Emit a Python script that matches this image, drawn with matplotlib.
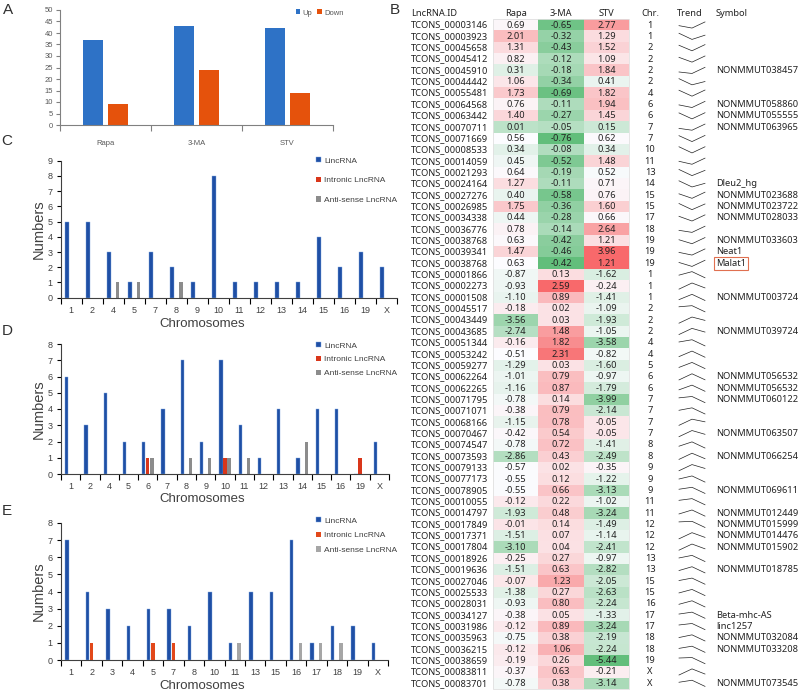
import numpy as np
import matplotlib.pyplot as plt
from matplotlib.patches import Rectangle

W, H = 800, 692
plt.rcParams['font.family'] = ['Liberation Sans', 'DejaVu Sans']

# ---------------- data ----------------
groups = ['Rapa', '3-MA', 'STV']
up_counts = [37, 43, 42]
down_counts = [9, 24, 14]

chr_c = ['1', '2', '4', '5', '7', '8', '9', '10', '11', '12', '13', '14', '15', '16', '19', 'X']
linc_c = [5, 5, 3, 1, 3, 2, 1, 8, 1, 1, 1, 1, 4, 2, 3, 2]
intr_c = [0, 0, 0, 0, 0, 0, 0, 0, 0, 0, 0, 0, 0, 0, 0, 0]
anti_c = [0, 0, 1, 1, 0, 1, 0, 0, 0, 0, 0, 0, 0, 0, 0, 0]

chr_d = ['1', '2', '4', '5', '6', '7', '8', '9', '10', '11', '12', '13', '14', '15', '16', '19', 'X']
linc_d = [6, 3, 5, 2, 2, 4, 7, 2, 7, 3, 1, 4, 1, 4, 4, 0, 2]
intr_d = [0, 0, 0, 0, 1, 0, 0, 0, 1, 0, 0, 0, 0, 0, 0, 1, 0]
anti_d = [0, 0, 0, 0, 1, 0, 1, 1, 1, 1, 0, 0, 2, 0, 0, 0, 0]

chr_e = ['1', '2', '3', '4', '5', '7', '8', '10', '11', '13', '15', '16', '17', '18', '19', 'X']
linc_e = [7, 4, 3, 2, 3, 3, 2, 4, 1, 4, 4, 7, 1, 2, 2, 1]
intr_e = [0, 1, 0, 0, 1, 1, 0, 0, 0, 0, 0, 0, 0, 0, 0, 0]
anti_e = [0, 0, 0, 0, 0, 0, 0, 0, 1, 0, 0, 1, 1, 1, 0, 0]

ids = ['TCONS_00003146', 'TCONS_00003923', 'TCONS_00045658', 'TCONS_00045412', 'TCONS_00045910',
       'TCONS_00044442', 'TCONS_00055481', 'TCONS_00064568', 'TCONS_00063442', 'TCONS_00070711',
       'TCONS_00071669', 'TCONS_00008533', 'TCONS_00014059', 'TCONS_00021293', 'TCONS_00024164',
       'TCONS_00027276', 'TCONS_00026985', 'TCONS_00034338', 'TCONS_00036776', 'TCONS_00038768',
       'TCONS_00039341', 'TCONS_00038768',
       'TCONS_00001866', 'TCONS_00002273', 'TCONS_00001508', 'TCONS_00045517', 'TCONS_00043449',
       'TCONS_00043685', 'TCONS_00051344', 'TCONS_00053242', 'TCONS_00059277', 'TCONS_00062264',
       'TCONS_00062265', 'TCONS_00071795', 'TCONS_00071071', 'TCONS_00068166', 'TCONS_00070467',
       'TCONS_00074547', 'TCONS_00073593', 'TCONS_00079133', 'TCONS_00077173', 'TCONS_00078905',
       'TCONS_00010055', 'TCONS_00014797', 'TCONS_00017849', 'TCONS_00017371', 'TCONS_00017804',
       'TCONS_00018926', 'TCONS_00019636', 'TCONS_00027046', 'TCONS_00025533', 'TCONS_00028031',
       'TCONS_00034127', 'TCONS_00031986', 'TCONS_00035963', 'TCONS_00036215', 'TCONS_00038659',
       'TCONS_00083811', 'TCONS_00083701']
rapa = [0.69, 2.01, 1.31, 0.82, 0.31, 1.06, 1.73, 0.76, 1.40, 0.01, 0.56, 0.34, 0.45, 0.64, 1.27,
        0.40, 1.75, 0.44, 0.78, 0.63, 1.47, 0.63,
        -0.87, -0.93, -1.10, -0.18, -3.56, -2.74, -0.16, -0.51, -1.29, -1.01, -1.16, -0.78, -0.38,
        -1.15, -0.42, -0.78, -2.86, -0.57, -0.55, -0.55, -0.12, -1.93, -0.01, -1.51, -3.10, -0.25,
        -1.51, -0.07, -1.38, -0.93, -0.38, -0.12, -0.75, -0.12, -0.19, -0.37, -0.78]
ma3 = [-0.65, -0.32, -0.43, -0.12, -0.18, -0.34, -0.69, -0.11, -0.27, -0.05, -0.76, -0.08, -0.52,
       -0.19, -0.11, -0.58, -0.36, -0.28, -0.14, -0.42, -0.46, -0.42,
       0.13, 2.59, 0.89, 0.02, 0.03, 1.48, 1.82, 2.31, 0.03, 0.79, 0.87, 0.14, 0.79, 0.78, 0.54,
       0.72, 0.43, 0.02, 0.12, 0.66, 0.22, 0.48, 0.14, 0.07, 0.04, 0.27, 0.63, 1.23, 0.27, 0.80,
       0.05, 0.89, 0.38, 1.06, 0.26, 0.63, 0.38]
stv = [2.77, 1.29, 1.52, 1.09, 1.84, 0.41, 1.82, 1.94, 1.45, 0.15, 0.62, 0.34, 1.48, 0.52, 0.71,
       0.76, 1.60, 0.66, 2.64, 1.21, 3.96, 1.21,
       -1.62, -0.24, -1.41, -1.09, -1.93, -1.05, -3.58, -0.82, -1.60, -0.97, -1.79, -3.99, -2.14,
       -0.05, -0.05, -1.41, -2.49, -0.35, -1.22, -3.13, -1.02, -3.24, -1.49, -1.14, -2.41, -0.97,
       -2.82, -2.05, -2.63, -2.24, -1.33, -3.24, -2.19, -2.24, -5.44, -0.21, -3.14]
chrom = ['1', '1', '2', '2', '2', '2', '4', '6', '6', '7', '7', '10', '11', '13', '14', '15', '15',
         '17', '18', '19', '19', '19',
         '1', '1', '1', '2', '2', '2', '4', '4', '5', '6', '6', '7', '7', '7', '7', '8', '8', '9',
         '9', '9', '11', '11', '12', '12', '12', '13', '13', '15', '15', '16', '17', '17', '18',
         '18', '19', 'X', 'X']
symbol = ['', '', '', '', 'NONMMUT038457', '', '', 'NONMMUT058860', 'NONMMUT055555', 'NONMMUT063965',
          '', '', '', '', 'Dleu2_hg', 'NONMMUT023688', 'NONMMUT023722', 'NONMMUT028033', '',
          'NONMMUT033603', 'Neat1', 'Malat1',
          '', '', 'NONMMUT003724', '', '', 'NONMMUT039724', '', '', '', 'NONMMUT056532',
          'NONMMUT056532', 'NONMMUT060122', '', '', 'NONMMUT063507', '', 'NONMMUT066254', '', '',
          'NONMMUT069611', '', 'NONMMUT012449', 'NONMMUT015999', 'NONMMUT014476', 'NONMMUT015902',
          '', 'NONMMUT018785', '', '', '', 'Beta-mhc-AS', 'linc1257', 'NONMMUT032084',
          'NONMMUT033208', '', '', 'NONMMUT073545']
# rows sharing one colour scale (up block, highlighted Malat1 row, down block)
scale_groups = [range(0, 21), range(21, 22), range(22, 59)]
boxed = 'Malat1'

fig = plt.figure(figsize=(W / 100, H / 100), dpi=100)


def px_axes(x0, y0, x1, y1):
    return fig.add_axes([x0 / W, 1 - y1 / H, (x1 - x0) / W, (y1 - y0) / H])


TXT = '#404040'

# ---------------- panel A ----------------
axA = px_axes(60, 10, 333, 125)
xa = np.arange(len(groups))
axA.bar(xa - 0.14, up_counts, 0.22, color='#2E72C6', label='Up')
axA.bar(xa + 0.14, down_counts, 0.22, color='#E5520C', label='Down')
axA.set_xlim(-0.5, len(groups) - 0.5)
axA.set_ylim(0, 50)
axA.set_yticks(range(0, 51, 5))
axA.set_xticks(np.arange(-0.5, len(groups)))
axA.set_xticklabels([])
for s in ['top', 'right']:
    axA.spines[s].set_visible(False)
for s in ['left', 'bottom']:
    axA.spines[s].set_color('#808080')
    axA.spines[s].set_linewidth(0.8)
axA.tick_params(axis='y', labelsize=5.5, colors='#808080', labelcolor='#595959', length=3, width=0.8, pad=2)
axA.tick_params(axis='x', colors='#808080', length=4, width=0.8)
for i, g in enumerate(groups):
    axA.text(i, -8, g, ha='center', va='center', fontsize=5.5, color='#595959')
axA.legend(loc='center left', bbox_to_anchor=(292 / W, 1 - 13 / H), bbox_transform=fig.transFigure,
           ncol=2, frameon=False, fontsize=5.5, handlelength=0.6, handleheight=0.6,
           handletextpad=0.3, columnspacing=0.6, labelcolor='#595959', borderpad=0)


# ---------------- panels C, D, E ----------------
def chrom_panel(box, cats, linc, intr, anti, ymax, leg_y, leg_gap, xlab_y, red, grey):
    ax = px_axes(*box)
    n = len(cats)
    x = np.arange(n)
    ax.bar(x - 0.21, linc, 0.17, color='#1F4FA5', edgecolor='#7FA8E0', linewidth=0.3, label='LincRNA')
    ax.bar(x, intr, 0.17, color=red, linewidth=0, label='Intronic LncRNA')
    ax.bar(x + 0.21, anti, 0.17, color=grey, linewidth=0, label='Anti-sense LncRNA')
    ax.set_xlim(-0.5, n - 0.5)
    ax.set_ylim(0, ymax)
    ax.set_yticks(range(0, ymax + 1))
    ax.set_xticks(np.arange(-0.5, n))
    ax.set_xticklabels([])
    ax.set_xticks(x, minor=True)
    ax.set_xticklabels(cats, minor=True)
    for s in ['top', 'right']:
        ax.spines[s].set_visible(False)
    for s in ['left', 'bottom']:
        ax.spines[s].set_color('#404040')
        ax.spines[s].set_linewidth(0.8)
    ax.tick_params(axis='y', labelsize=6.5, labelcolor=TXT, length=3, width=0.8, pad=3)
    ax.tick_params(axis='x', which='major', length=4, width=0.8)
    ax.tick_params(axis='x', which='minor', length=0, labelsize=6.5, labelcolor=TXT, pad=6)
    x0, y0, x1, y1 = box
    ax.set_ylabel('Numbers', fontsize=10.5, color=TXT)
    ax.yaxis.set_label_coords((39 - x0) / (x1 - x0), 0.5)
    ax.yaxis.label.set_va('center')
    ax.set_xlabel('Chromosomes', fontsize=9.5, color=TXT)
    ax.xaxis.set_label_coords((202 - x0) / (x1 - x0), (y1 - xlab_y) / (y1 - y0))
    ax.xaxis.label.set_va('center')
    ax.legend(loc='upper left', bbox_to_anchor=(316 / W, 1 - leg_y / H), bbox_transform=fig.transFigure,
              frameon=False, fontsize=6, handlelength=0.6, handleheight=0.6, handletextpad=0.4,
              labelspacing=leg_gap, labelcolor=TXT, borderpad=0, borderaxespad=0)
    return ax


chrom_panel((60.7, 160.7, 397, 297.7), chr_c, linc_c, intr_c, anti_c, 9, 157, 1.45, 324,
            '#D9361A', '#8C8C8C')
chrom_panel((61, 344, 389, 474), chr_d, linc_d, intr_d, anti_d, 8, 342, 0.75, 499,
            '#D9361A', '#8C8C8C')
chrom_panel((61, 523, 388, 660), chr_e, linc_e, intr_e, anti_e, 8, 517, 0.85, 686,
            '#E2481A', '#A6A6A6')

# panel letters
for lab, (lx, ly) in {'A': (8, 10), 'B': (395, 10), 'C': (7, 141), 'D': (7, 331), 'E': (7, 511)}.items():
    fig.text(lx / W, 1 - ly / H, lab, fontsize=11, ha='center', va='center', color='#303030')

# ---------------- panel B (table) ----------------
row_h = 11.35
tb = fig.add_axes([0.5, 0, 0.5, 1])
tb.set_xlim(400, 800)
tb.set_ylim((H - 25) / row_h, -25 / row_h)
tb.axis('off')

vals = np.array([rapa, ma3, stv]).T
GREEN = np.array([99, 190, 123]) / 255
WHITE = np.array([252, 252, 255]) / 255
RED = np.array([248, 105, 107]) / 255
rgb = np.zeros(vals.shape + (3,))
for rows in scale_groups:
    block = vals[list(rows)]
    lo, mid, hi = block.min(), np.median(block), block.max()
    for r in rows:
        for c in range(3):
            v = vals[r, c]
            if v >= mid:
                t = (v - mid) / (hi - mid) if hi > mid else 0
                rgb[r, c] = WHITE + t * (RED - WHITE)
            else:
                t = (mid - v) / (mid - lo)
                rgb[r, c] = WHITE + t * (GREEN - WHITE)

col_edges = np.linspace(493, 629, 4)
col_mid = (col_edges[:-1] + col_edges[1:]) / 2
nrow = len(ids)
tb.imshow(rgb, extent=[col_edges[0], col_edges[-1], nrow - 0.5, -0.5], aspect='auto',
          interpolation='nearest')
tb.add_patch(Rectangle((col_edges[0], -0.5), col_edges[-1] - col_edges[0], nrow, fill=False,
                       edgecolor='#E0E0E0', lw=0.6))

tfont = dict(fontsize=6.7, color='#222222', family=['Noto Sans', 'DejaVu Sans'], va='center')
x_id, x_chr, x_sym = 411, 650, 716
trend_x = np.array([679, 692, 705])
tb.text(x_id, -1, 'LncRNA.ID', ha='left', **tfont)
for c, g in enumerate(groups):
    tb.text(col_mid[c], -1, g, ha='center', **tfont)
tb.text(x_chr, -1, 'Chr.', ha='center', **tfont)
tb.text(trend_x.mean() - 2, -1, 'Trend', ha='center', **tfont)
tb.text(x_sym, -1, 'Symbol', ha='left', **tfont)

for r in range(nrow):
    tb.text(x_id, r, ids[r], ha='left', **tfont)
    for c in range(3):
        tb.text(col_mid[c], r, f'{vals[r, c]:.2f}', ha='center', **tfont)
    tb.text(x_chr, r, chrom[r], ha='center', **tfont)
    v = vals[r]
    ty = r + 0.27 - 0.54 * (v - v.min()) / (v.max() - v.min())
    tb.plot(trend_x, ty, color='#222222', lw=0.5)
    if symbol[r]:
        t = tb.text(x_sym, r, symbol[r], ha='left', **tfont)
        if symbol[r] == boxed:
            t.set_bbox(dict(boxstyle='square,pad=0.25', fc='none', ec='#E07050', lw=0.8))

fig.savefig('out.png', dpi=100)
